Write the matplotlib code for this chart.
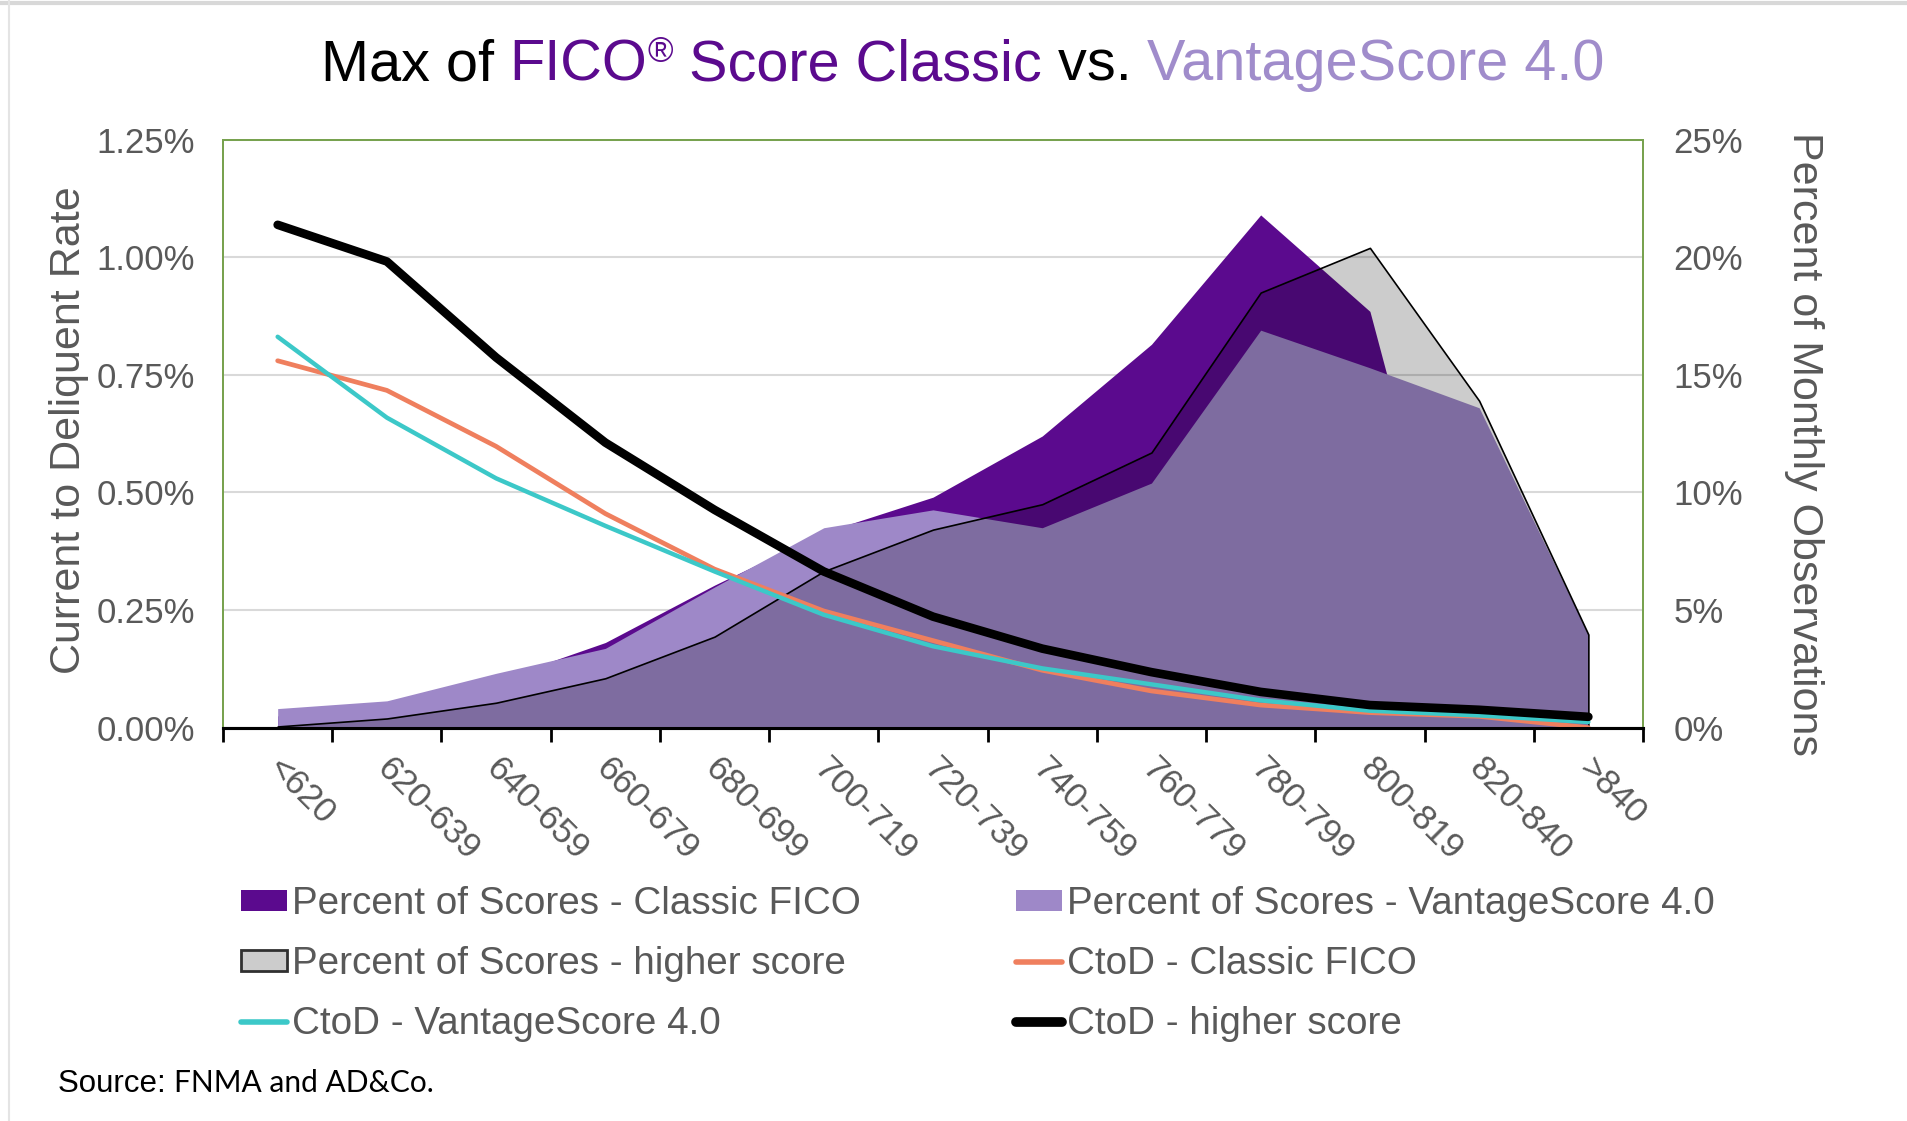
import numpy as np
import matplotlib
matplotlib.use('Agg')
import matplotlib.pyplot as plt
from matplotlib.patches import Patch
from matplotlib.lines import Line2D
from matplotlib.transforms import ScaledTranslation

plt.rcParams['font.family'] = ['Liberation Sans', 'DejaVu Sans']

# faixas de score
faixas = ['<620', '620-639', '640-659', '660-679', '680-699', '700-719', '720-739',
          '740-759', '760-779', '780-799', '800-819', '820-840', '>840']

# percentual de scores (eixo direito, %)
pct_fico = [0.5, 0.9, 2.0, 3.62, 6.06, 8.3, 9.8, 12.4, 16.3, 21.8, 17.7, 0.3, 0.0]
pct_vantage = [0.81, 1.14, 2.31, 3.37, 5.98, 8.5, 9.26, 8.5, 10.4, 16.9, 15.3, 13.6, 3.96]
pct_maior = [0.05, 0.39, 1.06, 2.1, 3.87, 6.65, 8.42, 9.5, 11.7, 18.5, 20.4, 13.9, 3.96]

# taxa current to delinquent (eixo esquerdo, %)
ctod_fico = [0.780, 0.717, 0.598, 0.455, 0.337, 0.248, 0.185, 0.122, 0.078, 0.048, 0.032, 0.024, 0.0]
ctod_vantage = [0.831, 0.659, 0.530, 0.429, 0.332, 0.240, 0.173, 0.126, 0.092, 0.058, 0.036, 0.026, 0.012]
ctod_maior = [1.069, 0.991, 0.787, 0.606, 0.463, 0.332, 0.236, 0.168, 0.118, 0.076, 0.048, 0.038, 0.023]

ticks_esq = [0, 0.25, 0.5, 0.75, 1.0, 1.25]
ticks_dir = [0, 5, 10, 15, 20, 25]

roxo = '#5B0A8E'
lilas = '#9E88C8'
lilas_tit = '#A08CCB'
coral = '#EF7F5E'
ciano = '#3CC8C8'
verde = '#77A24E'
cinza = '#595959'

fig = plt.figure(figsize=(19.08, 11.21), dpi=100)
ax = fig.add_axes([0.1169, 0.3509, 0.7442, 0.5245])
ax2 = ax.twinx()

x = np.arange(len(faixas))

# areas (eixo direito)
ax.fill_between(x, pct_fico, color=roxo, lw=0, zorder=2)
ax.fill_between(x, pct_vantage, color=lilas, lw=0, zorder=3)
ax.fill_between(x, pct_maior, facecolor=(0, 0, 0, 0.2), edgecolor='black', lw=1.2, zorder=4)

# linhas (eixo esquerdo)
ax2.plot(x, ctod_fico, color=coral, lw=3.4, solid_capstyle='round')
ax2.plot(x, ctod_vantage, color=ciano, lw=3.2, solid_capstyle='round')
ax2.plot(x, ctod_maior, color='black', lw=6.2, solid_capstyle='round')

ax.set_xlim(-0.5, 12.5)
ax.set_ylim(0, 25)
ax2.set_ylim(0, 1.25)

ax.yaxis.tick_right()
ax.set_yticks(ticks_dir)
ax.set_yticklabels([f'{v}%' for v in ticks_dir])
ax2.yaxis.tick_left()
ax2.set_yticks(ticks_esq)
ax2.set_yticklabels([f'{v:.2f}%' for v in ticks_esq])
ax.tick_params(axis='y', length=0, pad=22, labelsize=25, labelcolor=cinza)
ax2.tick_params(axis='y', length=0, pad=20, labelsize=25, labelcolor=cinza)

ax.grid(axis='y', color='#D9D9D9', lw=1.5)
ax.set_axisbelow(True)

ax.set_xticks(x)
ax.set_xticklabels(faixas, rotation=-45, ha='left', va='top', rotation_mode='anchor')
ax.set_xticks(np.arange(-0.5, 13, 1), minor=True)
ax.tick_params(axis='x', which='major', length=0, pad=17, labelsize=25.5, labelcolor=cinza)
ax.tick_params(axis='x', which='minor', length=10, width=2, color='black', direction='out')
for lab in ax.get_xticklabels():
    lab.set_transform(lab.get_transform() + ScaledTranslation(0.07, 0, fig.dpi_scale_trans))

for a in (ax, ax2):
    for s in ('top', 'left', 'right'):
        a.spines[s].set_color(verde)
        a.spines[s].set_linewidth(1.3)
    a.spines['bottom'].set_color('black')
    a.spines['bottom'].set_linewidth(2.2)

fig.text(0.036, 0.616, 'Current to Deliquent Rate', rotation=90, ha='center', va='center',
         fontsize=31, color=cinza)
fig.text(0.9455, 0.604, 'Percent of Monthly Observations', rotation=270, ha='center', va='center',
         fontsize=31, color=cinza)

# titulo com cores misturadas
y0 = 0.9286
t0 = fig.text(0.17, y0, 'Max of ', fontsize=41.5, color='black', ha='left', va='baseline')
pecas = [('FICO', roxo, 41.5, 0), ('®', roxo, 25, 13), (' Score Classic', roxo, 41.5, 0),
         (' vs. ', 'black', 41.5, 0), ('VantageScore 4.0', lilas_tit, 41.5, 0)]
ant = t0
for txt, cor, tam, sobe in pecas:
    ant = ax.annotate(txt, xy=(1, y0), xycoords=(ant, 'figure fraction'),
                      xytext=(0, sobe), textcoords='offset points',
                      fontsize=tam, color=cor, ha='left', va='baseline', annotation_clip=False)

# legenda
h_fico = Patch(facecolor=roxo, edgecolor='none')
h_vant = Patch(facecolor=lilas, edgecolor='none')
h_maior = Patch(facecolor='#CCCCCC', edgecolor='#303030', lw=2)
h_cf = Line2D([], [], color=coral, lw=4, solid_capstyle='round')
h_cv = Line2D([], [], color=ciano, lw=4, solid_capstyle='round')
h_cm = Line2D([], [], color='black', lw=7, solid_capstyle='round')
handles = [h_fico, h_maior, h_cv, h_vant, h_cf, h_cm]
labels = ['Percent of Scores - Classic FICO', 'Percent of Scores - higher score', 'CtoD - VantageScore 4.0',
          'Percent of Scores - VantageScore 4.0', 'CtoD - Classic FICO', 'CtoD - higher score']
fig.legend(handles, labels, ncol=2, loc='upper left', bbox_to_anchor=(0.1263, 0.2092),
           frameon=False, fontsize=27.8, labelcolor=cinza, handlelength=1.2, handleheight=0.45,
           handletextpad=0.13, columnspacing=4.0, labelspacing=0.62, borderpad=0, borderaxespad=0)

# fonte
s0 = fig.text(0.0304, 0.026, 'Source: ', fontsize=22.5, color='black', ha='left', va='baseline')
ax.annotate('FNMA and AD&Co.', xy=(1, 0.026), xycoords=(s0, 'figure fraction'),
            fontsize=21.5, family='Lato', color='black', ha='left', va='baseline', annotation_clip=False)

# moldura da imagem
fig.add_artist(Line2D([0, 1], [0.997, 0.997], transform=fig.transFigure, color='#D8D8D8', lw=3))
fig.add_artist(Line2D([0.0045, 0.0045], [0, 1], transform=fig.transFigure, color='#E4E4E4', lw=1.5))

# centraliza o titulo
fig.canvas.draw()
r = fig.canvas.get_renderer()
b0 = t0.get_window_extent(r)
b1 = ant.get_window_extent(r)
larg = (b1.x1 - b0.x0) / fig.bbox.width
t0.set_x(0.5045 - larg / 2)

fig.savefig('out.png', dpi=100)
